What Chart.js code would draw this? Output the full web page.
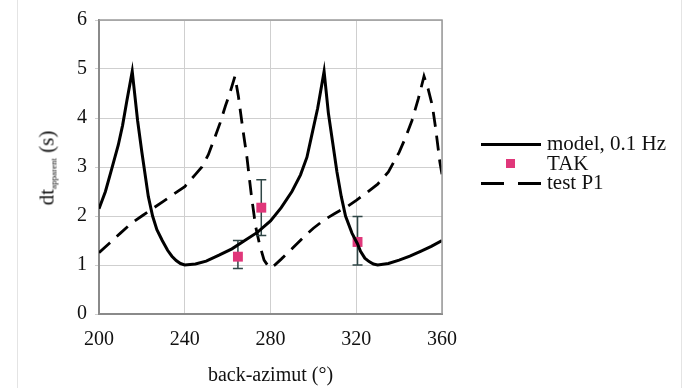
<!DOCTYPE html>
<html>
<head>
<meta charset="utf-8">
<script src="https://cdn.jsdelivr.net/npm/chart.js@4.4.0/dist/chart.umd.min.js"></script>
<style>
  html, body { margin: 0; padding: 0; background: #fff; }
  #wrap { position: relative; width: 684px; height: 388px; }
  #wrap:before { content: ""; position: absolute; left: 17px; top: 0; bottom: 0; border-left: 1px solid #e4e4e4; }
  #wrap:after { content: ""; position: absolute; left: 681px; top: 0; bottom: 0; border-left: 1px solid #e4e4e4; }
  canvas { position: absolute; left: 0; top: 0; }
  .serif { font-family: "Liberation Serif", "DejaVu Serif", serif; color: #111; }
  #ylab { position: absolute; left: 47px; top: 168px; transform: translate(-50%, -50%) rotate(-90deg); white-space: nowrap; font-size: 21px; }
  #ylab sub { font-size: 9px; vertical-align: -3px; }
  #legend { position: absolute; left: 481px; top: 134px; font-size: 21px; }
  .row { position: relative; height: 19.5px; line-height: 19.5px; }
  .row span.txt { position: absolute; left: 66px; top: 0; white-space: nowrap; }
  .solid { position: absolute; left: 0; top: 9px; width: 60px; height: 0; border-top: 3px solid #000; }
  .dash { position: absolute; left: 0; top: 9px; width: 60px; height: 3px;
          background: linear-gradient(to right, #000 0 23px, transparent 23px 37px, #000 37px 60px); }
  .sq { position: absolute; left: 25px; top: 5px; width: 9px; height: 9px; background: #e0377a; }
</style>
</head>
<body>
<div id="wrap">
  <canvas id="grafico" width="684" height="388"></canvas>
  <div id="ylab" class="serif">dt<sub>apparent</sub> (s)</div>
  <div id="legend" class="serif">
    <div class="row"><div class="solid"></div><span class="txt">model, 0.1 Hz</span></div>
    <div class="row"><div class="sq"></div><span class="txt">TAK</span></div>
    <div class="row"><div class="dash"></div><span class="txt">test P1</span></div>
  </div>
</div>
<script>
// modelo 0.1 Hz (linha cheia)
const modelAz = [200, 203, 206, 209, 211, 213, 215.5, 218, 220, 223, 225, 227, 229.5, 232, 234, 236, 238, 240, 245, 250, 256, 262, 268, 274, 280, 285, 290, 294, 297, 299, 302, 305, 307, 309, 311, 313, 315, 318, 320.5, 322, 324, 326, 328, 330, 335, 340, 345, 350, 355, 360]
const modelDt = [2.15, 2.5, 2.97, 3.45, 3.85, 4.35, 4.95, 3.95, 3.3, 2.4, 2.0, 1.72, 1.5, 1.3, 1.18, 1.09, 1.03, 1.0, 1.02, 1.08, 1.2, 1.33, 1.5, 1.67, 1.9, 2.17, 2.5, 2.84, 3.2, 3.6, 4.2, 4.95, 4.1, 3.5, 2.9, 2.4, 2.0, 1.65, 1.44, 1.28, 1.14, 1.07, 1.02, 1.0, 1.03, 1.1, 1.18, 1.28, 1.38, 1.5]

// test P1 (tracejada)
const testAz = [200, 205, 210, 215, 220, 225, 230, 235, 240, 245, 248, 251, 254, 256.5, 259, 261, 263.4, 265, 267, 269, 271, 273, 275, 277, 279.5, 282, 285, 290, 295, 300, 305, 310, 316, 320, 325, 330, 335, 340, 343, 346, 349, 351.6, 353.5, 355.5, 357, 359, 360]
const testDt = [1.25, 1.45, 1.65, 1.85, 2.0, 2.15, 2.3, 2.45, 2.6, 2.85, 3.0, 3.25, 3.6, 3.9, 4.25, 4.5, 4.85, 4.45, 3.8, 3.2, 2.45, 1.8, 1.4, 1.1, 0.94, 1.0, 1.12, 1.33, 1.55, 1.75, 1.92, 2.05, 2.2, 2.32, 2.48, 2.65, 2.9, 3.3, 3.6, 3.95, 4.4, 4.85, 4.6, 4.25, 3.8, 3.1, 2.85]

// TAK com barras de erro
const takAz = [264.8, 275.7, 320.6]
const takDt = [1.17, 2.17, 1.47]
const takLo = [0.93, 1.6, 1.0]
const takHi = [1.5, 2.74, 1.99]

const xTicks = [200, 240, 280, 320, 360]
const yTicks = [0, 1, 2, 3, 4, 5, 6]

const fonte = { family: '"Liberation Serif", "DejaVu Serif", serif', size: 20 }

function pontos(xs, ys) {
    return xs.map((x, i) => ({ x: x, y: ys[i] }))
}

const barrasErro = {
    id: 'barrasErro',
    beforeDatasetDraw(chart, args) {
        if (args.index !== 1) return
        const ctx = chart.ctx
        const sx = chart.scales.x
        const sy = chart.scales.y
        ctx.save()
        ctx.strokeStyle = '#2f4646'
        ctx.lineWidth = 1.5
        for (let i = 0; i < takAz.length; i++) {
            const px = sx.getPixelForValue(takAz[i])
            const yl = sy.getPixelForValue(takLo[i])
            const yh = sy.getPixelForValue(takHi[i])
            ctx.beginPath()
            ctx.moveTo(px, yl); ctx.lineTo(px, yh)
            ctx.moveTo(px - 5, yl); ctx.lineTo(px + 5, yl)
            ctx.moveTo(px - 5, yh); ctx.lineTo(px + 5, yh)
            ctx.stroke()
        }
        ctx.restore()
    }
}

const ctx = document.getElementById('grafico')
const grafico = new Chart(ctx, {
    type: 'scatter',
    data: {
        datasets: [{
            label: 'model, 0.1 Hz',
            data: pontos(modelAz, modelDt),
            showLine: true,
            borderColor: '#000',
            borderWidth: 3,
            pointRadius: 0,
            tension: 0
        },
        {
            label: 'TAK',
            data: pontos(takAz, takDt),
            pointStyle: 'rect',
            pointRadius: 7,
            backgroundColor: '#e0377a',
            borderColor: '#e0377a',
            borderWidth: 0
        },
        {
            label: 'test P1',
            data: pontos(testAz, testDt),
            showLine: true,
            borderColor: '#000',
            borderWidth: 2.8,
            borderDash: [15, 9],
            pointRadius: 0,
            tension: 0
        }]
    },
    options: {
        responsive: false,
        animation: false,
        layout: { padding: { left: 0, right: 242, top: 16, bottom: 0 } },
        plugins: { legend: { display: false }, tooltip: { enabled: false } },
        scales: {
            x: {
                type: 'linear',
                min: 200, max: 360,
                afterBuildTicks: s => { s.ticks = xTicks.map(v => ({ value: v })) },
                afterFit: s => { s.height = 74 },
                grid: { color: '#cfcfcf', lineWidth: 1, drawTicks: false },
                border: { color: '#8a8a8a', width: 2 },
                ticks: { color: '#111', font: fonte, padding: 14 },
                title: { display: true, text: 'back-azimut (°)', color: '#111', font: fonte, padding: { top: 4, bottom: 0 } }
            },
            y: {
                min: 0, max: 6,
                afterBuildTicks: s => { s.ticks = yTicks.map(v => ({ value: v })) },
                afterFit: s => { s.width = 99 },
                grid: { color: '#cfcfcf', lineWidth: 1, tickLength: 4 },
                border: { color: '#8a8a8a', width: 2 },
                ticks: { color: '#111', font: fonte, padding: 8 }
            }
        }
    },
    plugins: [barrasErro, {
        id: 'moldura',
        afterDraw(chart) {
            const a = chart.chartArea
            const c = chart.ctx
            c.save()
            c.strokeStyle = '#9a9a9a'
            c.lineWidth = 1.5
            c.beginPath()
            c.moveTo(a.left, a.top); c.lineTo(a.right, a.top); c.lineTo(a.right, a.bottom)
            c.stroke()
            c.restore()
        }
    }]
})
</script>
</body>
</html>
